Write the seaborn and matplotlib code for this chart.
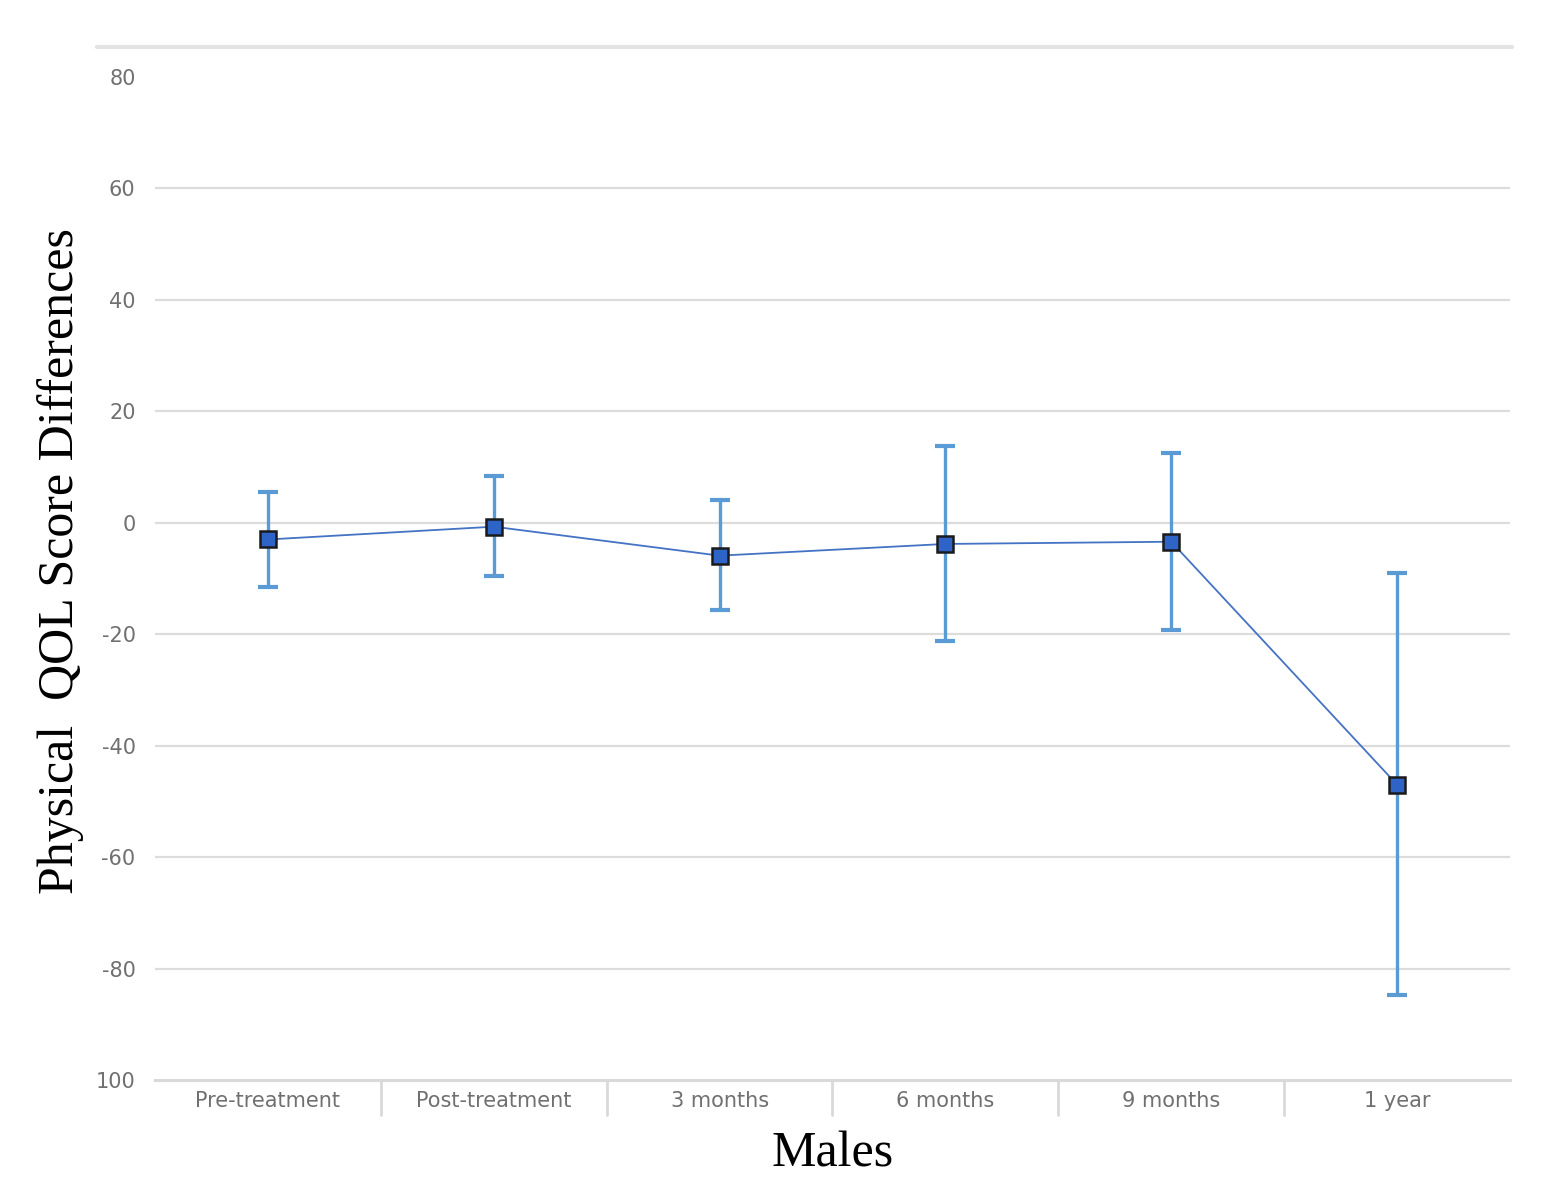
import matplotlib
matplotlib.use("Agg")
import matplotlib.pyplot as plt
import matplotlib.transforms as mtransforms
from matplotlib.lines import Line2D
import seaborn as sns
import pandas as pd

categories = ["Pre-treatment", "Post-treatment", "3 months", "6 months", "9 months", "1 year"]
means = [-3.0, -0.7, -5.9, -3.8, -3.4, -47.0]
upper = [5.5, 8.4, 4.1, 13.8, 12.6, -9.1]
lower = [-11.5, -9.5, -15.6, -21.2, -19.2, -84.7]
yticks = [-100, -80, -60, -40, -20, 0, 20, 40, 60, 80]
ytick_labels = ["100", "-80", "-60", "-40", "-20", "0", "20", "40", "60", "80"]

sns.set_theme(style="white")
plt.rcParams["font.family"] = ["DejaVu Sans"]

df = pd.DataFrame({"pos": list(range(len(categories))), "mean": means})

fig = plt.figure(figsize=(15.57, 11.94), dpi=100)
ax = fig.add_axes([155 / 1557, 1 - 1080 / 1194, (1510 - 155) / 1557, (1080 - 77) / 1194])

# gridlines
for v in yticks[1:-1]:
    ax.axhline(v, color="#dcdcdc", lw=1.6, zorder=0)

# error bars
yerr = [[m - lo for m, lo in zip(means, lower)], [up - m for m, up in zip(means, upper)]]
eb = ax.errorbar(df["pos"], df["mean"], yerr=yerr, fmt="none", ecolor="#5b9bd5",
                 elinewidth=2.4, capsize=7, capthick=3, zorder=2)
for cap in eb[1]:
    cap.set_color("#2f7dcc")

sns.lineplot(data=df, x="pos", y="mean", ax=ax, sort=False, color="#4472c4",
             lw=1.3, marker="s", markersize=12, markerfacecolor="#2e64c8",
             markeredgecolor="#1a1a1a", markeredgewidth=1.8, zorder=3)

ax.set_xlim(-0.5, len(categories) - 0.5)
ax.set_ylim(-100, 80)
ax.set_yticks(yticks)
ax.set_yticklabels(ytick_labels)
ax.set_xticks(range(len(categories)))
ax.set_xticklabels(categories)
ax.tick_params(axis="y", length=0, pad=14, labelsize=15, labelcolor="#707070")
ax.tick_params(axis="x", length=0, pad=8, labelsize=15, labelcolor="#707070")

for s in ["top", "right", "left"]:
    ax.spines[s].set_visible(False)
ax.spines["bottom"].set_color("#d9d9d9")
ax.spines["bottom"].set_linewidth(2.2)

# category divider ticks below the axis
trans = mtransforms.blended_transform_factory(ax.transData, ax.transAxes)
for b in [0.5, 1.5, 2.5, 3.5, 4.5]:
    ax.plot([b, b], [0, -35 / 1003], transform=trans, color="#d9d9d9", lw=2, clip_on=False)

ax.set_xlabel("Males", family="Liberation Serif", fontsize=36, color="black", labelpad=14)
ax.set_ylabel("Physical  QOL Score Differences", family="Liberation Serif", fontsize=36,
              color="black")
ax.yaxis.set_label_coords(-0.070, 0.517)
ax.yaxis.label.set_verticalalignment("center")
ax.yaxis.label.set_horizontalalignment("center")

# top border line
fig.add_artist(Line2D([97 / 1557, 1512 / 1557], [1 - 47 / 1194, 1 - 47 / 1194],
                      transform=fig.transFigure, color="#e3e3e3", lw=3))

fig.savefig("out.png", dpi=100, facecolor="white")
